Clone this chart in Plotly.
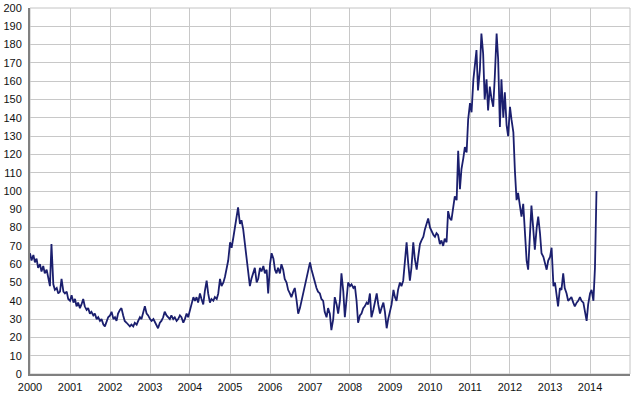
import pandas as pd
import plotly.graph_objects as go

# semi-monthly readings (1st and 15th of each month)
v2000 = [66, 62, 65, 61, 63, 58, 60, 56, 59, 55, 57, 53, 48, 71, 49, 46, 47, 44, 45, 52, 45, 44, 45, 41]
v2001 = [40, 43, 39, 41, 37, 39, 36, 38, 41, 37, 35, 36, 33, 34, 32, 33, 30, 31, 29, 30, 27, 26, 29, 31]
v2002 = [32, 34, 30, 31, 29, 33, 35, 36, 32, 29, 28, 27, 26, 27, 26, 28, 27, 29, 31, 30, 34, 37, 33, 32]
v2003 = [30, 29, 30, 28, 27, 25, 28, 29, 31, 34, 32, 31, 30, 32, 30, 31, 29, 30, 32, 31, 28, 30, 33, 31]
v2004 = [35, 38, 42, 40, 42, 39, 44, 41, 38, 45, 51, 44, 39, 41, 40, 42, 41, 44, 52, 48, 50, 53, 58, 62]
v2005 = [72, 69, 75, 80, 86, 91, 82, 84, 79, 72, 66, 58, 48, 52, 55, 58, 50, 52, 58, 56, 59, 55, 57, 44]
v2006 = [60, 66, 63, 57, 55, 58, 55, 60, 57, 52, 50, 46, 44, 42, 45, 47, 40, 33, 36, 40, 44, 48, 52, 58]
v2007 = [61, 57, 53, 50, 47, 45, 44, 41, 40, 34, 31, 36, 33, 24, 30, 42, 38, 33, 40, 55, 45, 31, 42, 50]
v2008 = [48, 49, 47, 48, 40, 28, 32, 33, 36, 37, 39, 38, 44, 31, 35, 39, 44, 38, 33, 36, 39, 34, 25, 30]
v2009 = [35, 38, 46, 42, 40, 46, 50, 48, 51, 60, 72, 61, 51, 58, 72, 63, 57, 64, 71, 73, 75, 79, 82, 85]
v2010 = [80, 78, 76, 75, 77, 76, 71, 73, 70, 74, 72, 89, 85, 84, 92, 97, 95, 122, 101, 112, 118, 124, 121, 139]
v2011 = [148, 143, 161, 168, 177, 155, 166, 186, 175, 150, 161, 144, 157, 151, 146, 162, 186, 172, 135, 161, 140, 154, 136, 130]
v2012 = [146, 139, 132, 111, 95, 99, 90, 86, 93, 80, 62, 57, 75, 92, 79, 68, 80, 86, 77, 66, 64, 61, 57, 62]
v2013 = [64, 69, 48, 50, 43, 37, 47, 46, 55, 47, 44, 40, 41, 42, 39, 37, 39, 40, 42, 40, 39, 35, 29, 38]
v2014 = [44, 46, 40, 58, 100]

values = (v2000 + v2001 + v2002 + v2003 + v2004 + v2005 + v2006 + v2007
          + v2008 + v2009 + v2010 + v2011 + v2012 + v2013 + v2014)
dates = pd.date_range("2000-01-01", periods=len(values), freq="SMS")

years = list(range(2000, 2015))
year_ticks = [f"{y}-01-01" for y in years]
year_labels = [str(y) for y in years]
y_ticks = list(range(0, 201, 10))

fig = go.Figure()
fig.add_trace(go.Scatter(x=dates, y=values, mode="lines",
                         line=dict(color="#1b1f6e", width=1.8),
                         hoverinfo="skip"))

fig.update_layout(
    width=640, height=397,
    margin=dict(l=30, r=10, t=8, b=23),
    paper_bgcolor="white", plot_bgcolor="white",
    showlegend=False,
    font=dict(family="Liberation Sans, Arial, sans-serif", size=11, color="#111111"),
    shapes=[dict(type="rect", xref="paper", yref="paper", x0=0, y0=0, x1=1, y1=1,
                 line=dict(color="#c4c4c4", width=1), layer="below")],
)
fig.update_xaxes(range=["2000-01-01", "2015-01-01"], tickvals=year_ticks, ticktext=year_labels,
                 showgrid=True, gridcolor="#c8c8c8", gridwidth=1,
                 showline=True, linecolor="#808080", linewidth=2,
                 ticks="", zeroline=False, automargin=False, ticklabelstandoff=2)
fig.update_yaxes(range=[0, 200], tickvals=y_ticks,
                 showgrid=True, gridcolor="#c8c8c8", gridwidth=1,
                 showline=True, linecolor="#808080", linewidth=2,
                 ticks="", zeroline=False, ticklabelstandoff=4, automargin=False)

fig.write_html("out.html", config={"displayModeBar": False},
               post_script="document.body.style.margin='0';document.body.style.overflow='hidden';")
